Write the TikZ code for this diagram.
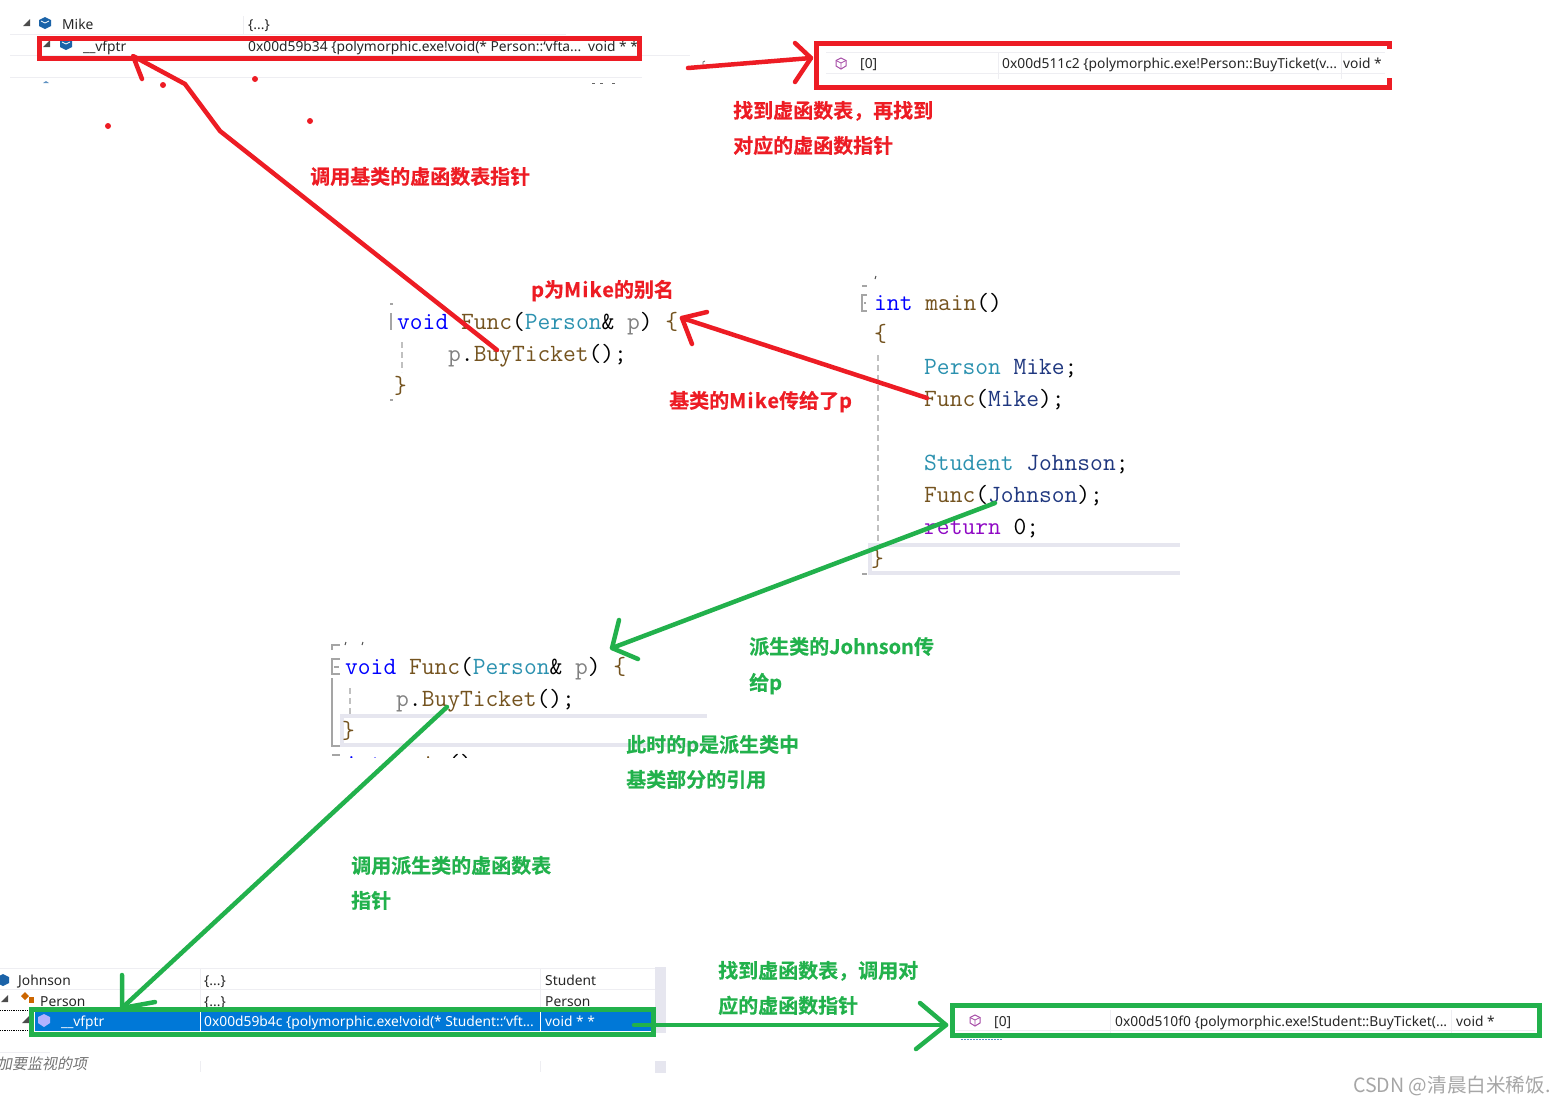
\documentclass[tikz,border=0pt]{standalone}
\usepackage{fontspec}
\usepackage{xcolor}
\setmainfont{Noto Sans}
\newfontfamily\cjkBold[FakeBold=0.5]{Noto Sans CJK SC Bold}
\newfontfamily\cjkWide[FakeBold=0.5, LetterSpace=6]{Noto Sans CJK SC Bold}
\newfontfamily\cjkPlain{Noto Sans CJK SC}
\newfontfamily\cjkSlant[FakeSlant=0.2]{Noto Sans CJK SC}
\usetikzlibrary{calc}
\definecolor{redColor}{HTML}{ED1C24}
\definecolor{greenColor}{HTML}{22B14C}
\definecolor{rowColor}{HTML}{EEEEF2}
\definecolor{markColor}{HTML}{A5A5A5}
\definecolor{highColor}{HTML}{E6E6EF}
\definecolor{selColor}{HTML}{0078D7}
\definecolor{cubeColor}{HTML}{1B63A8}
\definecolor{keyColor}{HTML}{0000FF}
\definecolor{funcColor}{HTML}{74531F}
\definecolor{typeColor}{HTML}{2B91AF}
\definecolor{parColor}{HTML}{808080}
\definecolor{varColor}{HTML}{1F377F}
\definecolor{retColor}{HTML}{8F08C4}
\newcommand{\kw}[1]{\textcolor{keyColor}{#1}}
\newcommand{\fn}[1]{\textcolor{funcColor}{#1}}
\newcommand{\ty}[1]{\textcolor{typeColor}{#1}}
\newcommand{\pr}[1]{\textcolor{parColor}{#1}}
\newcommand{\vr}[1]{\textcolor{varColor}{#1}}
\tikzset{
    uiText/.style={anchor=base west, inner sep=0pt, font=\fontsize{13.8}{16}\selectfont, text=black!85},
    codeText/.style={anchor=base west, inner sep=0pt, font=\fontsize{24.8}{28}\selectfont\ttfamily},
    redLabel/.style={anchor=base west, inner sep=0pt, text=redColor, font=\fontsize{20}{24}\selectfont\cjkBold},
    greenLabel/.style={anchor=base west, inner sep=0pt, text=greenColor, font=\fontsize{20}{24}\selectfont\cjkBold},
    redStroke/.style={draw=redColor, line width=4.5pt, line join=round, line cap=round},
    greenStroke/.style={draw=greenColor, line width=4.5pt, line join=round, line cap=round},
    redBox/.style={draw=redColor, line width=5pt},
    greenBox/.style={draw=greenColor, line width=5pt},
    rowLine/.style={draw=rowColor, line width=1pt},
    foldMark/.style={draw=markColor, line width=1.6pt},
    guideLine/.style={draw=markColor!70, line width=1.6pt, dash pattern=on 6pt off 4pt},
    highLine/.style={draw=highColor, line width=4pt},
}
\begin{document}
\begin{tikzpicture}[x=1pt, y=-1pt]
    \useasboundingbox (0, 0) rectangle (1565, 1104);

    % top watch table
    \foreach \ly/\lx in {34/566, 55/690, 77/642}
        \draw[rowLine] (10, \ly) -- (\lx, \ly);
    \draw[rowLine] (243, 16) -- (243, 34);
    \foreach \cx/\cy in {45/23, 66/44} {
        \fill[cubeColor] (\cx, \cy-6) -- (\cx+6, \cy-3) -- (\cx+6, \cy+3) -- (\cx, \cy+6) -- (\cx-6, \cy+3) -- (\cx-6, \cy-3) -- cycle;
        \draw[white, line width=0.8pt] (\cx-4, \cy-2) -- (\cx, \cy) -- (\cx+4, \cy-2);
    }
    \foreach \tx/\ty in {27/23, 47/44}
        \fill[black!70] (\tx+3, \ty-4) -- (\tx+3, \ty+3) -- (\tx-4, \ty+3) -- cycle;
    \fill[cubeColor!70] (43, 83) -- (46, 81) -- (49, 83) -- cycle;
    \foreach \gx in {592, 600, 612}
        \draw[black!60, line width=0.8pt] (\gx, 83) -- (\gx+3, 83);
    \draw[black!60, line width=0.8pt] (703, 66) -- (703, 62) -- (705, 61);
    \node[uiText] (mikeName) at (62, 29) {Mike};
    \node[uiText] (mikeValue) at (248, 29) {\{...\}};
    \node[uiText] (vfptrName) at (83, 51) {\_\_vfptr};
    \node[uiText] (vfptrValue) at (248, 51) {0x00d59b34 \{polymorphic.exe!void(* Person::`vfta...};
    \node[uiText] (vfptrType) at (588, 51) {void * *};

    % table of the base class
    \foreach \ly in {52, 73}
        \draw[rowLine] (826, \ly) -- (1385, \ly);
    \foreach \lx in {998, 1341}
        \draw[rowLine] (\lx, 52) -- (\lx, 79);
    \draw[draw=violet!70, line width=1pt] (841, 58) -- (846, 60.5) -- (846, 66) -- (841, 69) -- (836, 66) -- (836, 60.5) -- cycle;
    \draw[draw=violet!70, line width=0.8pt] (836, 60.5) -- (841, 63) -- (846, 60.5) (841, 63) -- (841, 69);
    \node[uiText] (baseIndex) at (860, 68) {[0]};
    \node[uiText] (baseValue) at (1002, 68) {0x00d511c2 \{polymorphic.exe!Person::BuyTicket(v...};
    \node[uiText] (baseType) at (1343, 68) {void *};

    % first Func
    \draw[foldMark] (391, 313) -- (391, 330);
    \draw[foldMark] (390, 304) -- (393, 304);
    \draw[foldMark] (390, 400) -- (393, 400);
    \draw[guideLine] (402, 342) -- (402, 372);
    \node[codeText] (funcHead) at (397, 329) {\kw{void} \fn{Func}(\ty{Person}\& \pr{p}) \fn{\{}};
    \node[codeText] (funcCall) at (448, 361) {\pr{p}.\fn{BuyTicket}();};
    \node[codeText] (funcEnd) at (394, 393) {\fn{\}}};

    % main
    \draw[highLine] (1180, 545) -- (870, 545) -- (870, 573) -- (1180, 573);
    \draw[foldMark] (867, 295) -- (862, 295) -- (862, 311) -- (867, 311);
    \draw[foldMark] (864, 303) -- (866, 303);
    \draw[foldMark] (862, 286) -- (867, 286);
    \draw[foldMark] (862, 574) -- (867, 574);
    \draw[black!70, line width=1pt] (876, 276) -- (875, 279);
    \draw[guideLine] (878, 355) -- (878, 545);
    \node[codeText] (mainHead) at (874, 310) {\kw{int} \fn{main}()};
    \node[codeText] (mainOpen) at (874, 341) {\fn{\{}};
    \node[codeText] (mikeDecl) at (924, 374) {\ty{Person} \vr{Mike};};
    \node[codeText] (mikeCall) at (924, 406) {\fn{Func}(\vr{Mike});};
    \node[codeText] (johnDecl) at (924, 470) {\ty{Student} \vr{Johnson};};
    \node[codeText] (johnCall) at (924, 502) {\fn{Func}(\vr{Johnson});};
    \node[codeText] (mainRet) at (924, 534) {\textcolor{retColor}{return} 0;};
    \node[codeText] (mainEnd) at (871, 566) {\fn{\}}};

    % second Func
    \draw[highLine] (707, 716) -- (342, 716) -- (342, 745) -- (707, 745);
    \draw[foldMark] (332, 650) -- (332, 645) -- (340, 645);
    \draw[foldMark] (340, 659) -- (332, 659) -- (332, 674) -- (340, 674);
    \draw[foldMark] (334, 667) -- (339, 667);
    \draw[foldMark] (332, 678) -- (332, 746) -- (340, 746);
    \draw[foldMark] (332, 755) -- (340, 755);
    \foreach \gx in {346, 363}
        \draw[black!70, line width=1pt] (\gx, 642) -- (\gx-1, 645);
    \draw[guideLine] (350, 688) -- (350, 715);
    \node[codeText] (otherHead) at (345, 674) {\kw{void} \fn{Func}(\ty{Person}\& \pr{p}) \fn{\{}};
    \node[codeText] (otherCall) at (396, 706) {\pr{p}.\fn{BuyTicket}();};
    \node[codeText] (otherEnd) at (342, 738) {\fn{\}}};
    \begin{scope}
        \clip (340, 749) rectangle (480, 757);
        \node[codeText] (nextHead) at (345, 771) {\kw{int} \fn{main}()};
    \end{scope}

    % bottom watch table
    \fill[highColor] (655, 967) rectangle (666, 1033);
    \fill[highColor] (655, 1061) rectangle (666, 1073);
    \foreach \ly in {968, 989}
        \draw[rowLine] (0, \ly) -- (655, \ly);
    \foreach \lx in {200, 540} {
        \draw[rowLine] (\lx, 968) -- (\lx, 1010);
        \draw[rowLine] (\lx, 1061) -- (\lx, 1072);
    }
    \draw[rowLine] (0, 1052) -- (50, 1052);
    \fill[cubeColor] (3, 974) -- (9, 977) -- (9, 983) -- (3, 986) -- (-3, 983) -- (-3, 977) -- cycle;
    \fill[orange!80!black] (25, 992) -- (29, 996) -- (25, 1000) -- (21, 996) -- cycle;
    \fill[orange!80!black] (29, 997) rectangle (34, 1003);
    \fill[black!70] (8, 995) -- (8, 1002) -- (1, 1002) -- cycle;
    \fill[black!70] (29, 1016) -- (29, 1023) -- (22, 1023) -- cycle;
    \draw[black, densely dotted, line width=0.8pt] (0, 1010) -- (32, 1010);
    \draw[black, densely dotted, line width=0.8pt] (0, 1030) -- (32, 1030);
    \fill[selColor] (35, 1011) rectangle (652, 1031);
    \foreach \lx in {200, 540}
        \draw[white, line width=1pt] (\lx, 1011) -- (\lx, 1031);
    \fill[blue!30!white] (44, 1014) -- (50, 1017) -- (50, 1023) -- (44, 1027) -- (38, 1023) -- (38, 1017) -- cycle;
    \node[uiText] (johnName) at (18, 985) {Johnson};
    \node[uiText] (johnValue) at (204, 985) {\{...\}};
    \node[uiText] (johnType) at (545, 985) {Student};
    \node[uiText] (personName) at (40, 1006) {Person};
    \node[uiText] (personValue) at (204, 1006) {\{...\}};
    \node[uiText] (personType) at (545, 1006) {Person};
    \node[uiText, text=white] (stuName) at (61, 1026) {\_\_vfptr};
    \node[uiText, text=white] (stuValue) at (204, 1026) {0x00d59b4c \{polymorphic.exe!void(* Student::`vft...};
    \node[uiText, text=white] (stuType) at (545, 1026) {void * *};
    \node[uiText, text=black!55, font=\fontsize{15}{16}\selectfont\cjkSlant] (addWatch) at (-3, 1069) {加要监视的项};

    % table of the derived class
    \draw[rowLine] (956, 1030) -- (1535, 1030);
    \foreach \lx in {1110, 1451}
        \draw[rowLine] (\lx, 1010) -- (\lx, 1038);
    \draw[cubeColor!70, line width=1.5pt, dash pattern=on 2pt off 1pt] (961, 1039.5) -- (1002, 1039.5);
    \draw[draw=violet!70, line width=1pt] (975, 1015) -- (980, 1017.5) -- (980, 1023) -- (975, 1026) -- (970, 1023) -- (970, 1017.5) -- cycle;
    \draw[draw=violet!70, line width=0.8pt] (970, 1017.5) -- (975, 1020) -- (980, 1017.5) (975, 1020) -- (975, 1026);
    \node[uiText] (stuIndex) at (994, 1026) {[0]};
    \node[uiText] (stuEntry) at (1115, 1026) {0x00d510f0 \{polymorphic.exe!Student::BuyTicket(...};
    \node[uiText] (stuEntryType) at (1456, 1026) {void *};

    % frames
    \node[redBox, minimum width=600pt, minimum height=20pt, inner sep=0pt] (mikeFrame) at (339.5, 48.5) {};
    \draw[redBox] (1389, 49) -- (1389, 43) -- (816.5, 43) -- (816.5, 87) -- (1389, 87) -- (1389, 78);
    \coordinate (baseFrame) at (811, 58);
    \node[greenBox, minimum width=622pt, minimum height=25pt, inner sep=0pt] (stuFrame) at (342.5, 1021.5) {};
    \node[greenBox, minimum width=587pt, minimum height=30pt, inner sep=0pt] (stuTable) at (1246, 1020.5) {};

    % red arrows
    \coordinate (fromCall) at (497, 350);
    \coordinate (vfptrTip) at (133, 56);
    \draw[redStroke] (fromCall) -- (220, 131) -- (185, 84) -- (vfptrTip) -- (142, 79);
    \draw[redStroke] (688, 68) -- (baseFrame);
    \draw[redStroke] (795, 43) -- (baseFrame) -- (795, 82);
    \coordinate (braceTip) at (682, 318);
    \draw[redStroke] (927, 398) -- (braceTip);
    \draw[redStroke] (707, 312) -- (braceTip) -- (692, 344);
    \foreach \dx/\dy in {108/126, 163/85, 255/79, 310/121}
        \fill[redColor] (\dx, \dy) circle (3pt);

    % green arrows
    \coordinate (otherTip) at (612, 648);
    \draw[greenStroke] (995, 503) -- (otherTip);
    \draw[greenStroke] (619, 620) -- (otherTip) -- (638, 659);
    \coordinate (stuTip) at (122, 1008);
    \draw[greenStroke] (447, 707) -- (stuTip);
    \draw[greenStroke] (122, 975) -- (stuTip) -- (155, 1002);
    \coordinate (entryTip) at (946, 1025);
    \draw[greenStroke] (634, 1025) -- (entryTip);
    \draw[greenStroke] (920, 1003) -- (entryTip) -- (916, 1049);

    % red labels
    \node[redLabel] (findTable) at (733, 118) {找到虚函数表，再找到};
    \node[redLabel] (findEntry) at (733, 153) {对应的虚函数指针};
    \node[redLabel] (callBase) at (310, 184) {调用基类的虚函数表指针};
    \node[redLabel] (aliasNote) at (531, 297) {p为{\cjkWide Mike}的别名};
    \node[redLabel] (passMike) at (669, 408) {基类的{\cjkWide Mike}传给了p};

    % green labels
    \node[greenLabel] (passJohn) at (749, 654) {派生类的Johnson传};
    \node[greenLabel] (passJohnB) at (749, 690) {给p};
    \node[greenLabel] (refNote) at (626, 752) {此时的p是派生类中};
    \node[greenLabel] (refNoteB) at (626, 787) {基类部分的引用};
    \node[greenLabel] (callStu) at (351, 873) {调用派生类的虚函数表};
    \node[greenLabel] (callStuB) at (351, 908) {指针};
    \node[greenLabel] (findStu) at (718, 978) {找到虚函数表，调用对};
    \node[greenLabel] (findStuB) at (718, 1013) {应的虚函数指针};

    \node[anchor=base west, inner sep=0pt, text=black!35, font=\fontsize{19.6}{22}\selectfont\cjkPlain] (stamp) at (1353, 1092) {CSDN @清晨白米稀饭.};
\end{tikzpicture}
\end{document}
